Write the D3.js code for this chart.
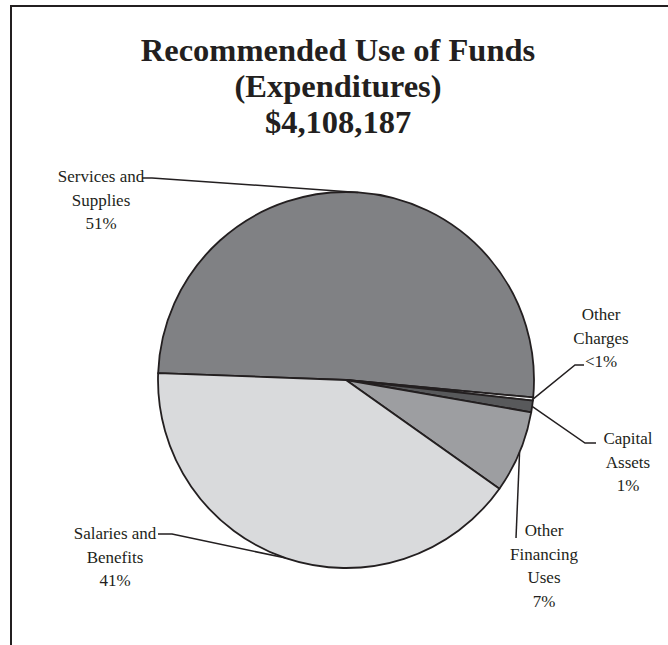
<!DOCTYPE html>
<html>
<head>
<meta charset="utf-8">
<script src="https://cdn.jsdelivr.net/npm/d3@7"></script>
<style>
  body { margin: 0; background: #fff; }
  svg text { font-family: "Liberation Serif", "DejaVu Serif", serif; fill: #231f20; }
</style>
</head>
<body>
<div id="chart"></div>
<script>
// chart data
const titleLines = ["Recommended Use of Funds", "(Expenditures)", "$4,108,187"];
const categories = ["Services and Supplies", "Other Charges", "Capital Assets", "Other Financing Uses", "Salaries and Benefits"];
const amounts = [2091000, 11000, 41000, 290000, 1675187];
const pctLabels = ["51%", "<1%", "1%", "7%", "41%"];
const labelLines = [["Services and", "Supplies"], ["Other", "Charges"], ["Capital", "Assets"], ["Other", "Financing", "Uses"], ["Salaries and", "Benefits"]];
const fills = ["#808184", "#f0f0f0", "#58595b", "#9d9ea1", "#d9dadc"];

const width = 668, height = 645;
const cx = 346, cy = 380, r = 188;

const svg = d3.select("#chart").append("svg")
    .attr("width", width)
    .attr("height", height);

// frame: top and left rules only
svg.append("line").attr("x1", 11).attr("y1", 6).attr("x2", width).attr("y2", 6)
    .attr("stroke", "#231f20").attr("stroke-width", 2);
svg.append("line").attr("x1", 11).attr("y1", 5).attr("x2", 11).attr("y2", height)
    .attr("stroke", "#231f20").attr("stroke-width", 2);

svg.append("g").selectAll("text")
    .data(titleLines)
    .join("text")
    .attr("x", 338)
    .attr("y", (d, i) => 61 + i * 36)
    .attr("text-anchor", "middle")
    .attr("font-weight", "bold")
    .attr("font-size", 32.5)
    .text(d => d);

const startA = -87.9 * Math.PI / 180;
const pie = d3.pie().sort(null).value(d => d.value)
    .startAngle(startA).endAngle(startA + 2 * Math.PI);
const slices = pie(categories.map((c, i) => ({ name: c, value: amounts[i], i })));
const arc = d3.arc().innerRadius(0).outerRadius(r);

const g = svg.append("g").attr("transform", `translate(${cx},${cy})`);
g.selectAll("path")
    .data(slices)
    .join("path")
    .attr("d", arc)
    .attr("fill", d => fills[d.data.i])
    .attr("stroke", "#231f20")
    .attr("stroke-width", 1.8)
    .attr("stroke-linejoin", "round");

// label placement (layout only): text centre x, first baseline y, leader elbow points
const labelPos = [
    { x: 101, y: 182, elbow: [[142, 178], [152, 178]] },
    { x: 601, y: 320, elbow: [[584, 365], [575, 365]] },
    { x: 628, y: 444, elbow: [[596, 443], [585, 443]] },
    { x: 544, y: 536, elbow: [[516, 538]] },
    { x: 115, y: 539, elbow: [[158, 534], [172, 534]] }
];

function edgePoint(d) {
    const a = (d.startAngle + d.endAngle) / 2;
    return [cx + r * Math.sin(a), cy - r * Math.cos(a)];
}

const line = d3.line();
svg.append("g").selectAll("path")
    .data(slices)
    .join("path")
    .attr("d", d => line([...labelPos[d.data.i].elbow, edgePoint(d)]))
    .attr("fill", "none")
    .attr("stroke", "#231f20")
    .attr("stroke-width", 1.5);

const labels = svg.append("g").selectAll("text")
    .data(slices)
    .join("text")
    .attr("text-anchor", "middle")
    .attr("font-size", 17)
    .attr("x", d => labelPos[d.data.i].x)
    .attr("y", d => labelPos[d.data.i].y);

labels.each(function (d) {
    const t = d3.select(this);
    const lines = [...labelLines[d.data.i], pctLabels[d.data.i]];
    lines.forEach((s, k) => {
        t.append("tspan")
            .attr("x", labelPos[d.data.i].x)
            .attr("dy", k === 0 ? 0 : 23.5)
            .text(s);
    });
});
</script>
</body>
</html>
